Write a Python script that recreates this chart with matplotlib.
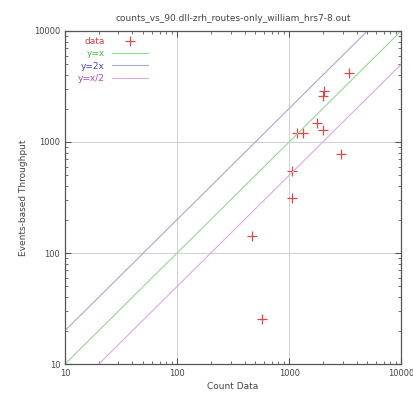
import matplotlib
matplotlib.use("Agg")
import matplotlib.pyplot as plt
import numpy as np

# count data vs events-based throughput
count_x = [3400, 2050, 2020, 1790, 2000, 1170, 1340, 2890, 1060, 1060, 464, 570]
events_y = [4150, 2900, 2600, 1470, 1280, 1200, 1200, 780, 550, 311, 142, 25.4]

ref_x = [10, 10000]

fig = plt.figure(figsize=(4.14, 4.01), dpi=100)
ax = fig.add_axes([0.157, 0.092, 0.812, 0.831])

ax.plot(count_x, events_y, linestyle='none', marker='+', ms=7, mew=0.9,
        color='#e04848', label='data')
ax.plot(ref_x, [v for v in ref_x], color='#90dc90', lw=0.8, label='y=x')
ax.plot(ref_x, [2 * v for v in ref_x], color='#a8a8d0', lw=0.8, label='y=2x')
ax.plot(ref_x, [v / 2 for v in ref_x], color='#e0a8e0', lw=0.8, label='y=x/2')

ax.set_xscale('log')
ax.set_yscale('log')
ax.set_xlim(10, 10000)
ax.set_ylim(10, 10000)
ax.set_xticks([10, 100, 1000, 10000])
ax.set_xticklabels(['10', '100', '1000', '10000'])
ax.set_yticks([10, 100, 1000, 10000])
ax.set_yticklabels(['10', '100', '1000', '10000'])
ax.grid(True, which='major', color='#d0d0d0', lw=0.7)
ax.tick_params(which='both', direction='in', top=True, right=True,
               labelsize=6, colors='#555555', labelcolor='#444444')
ax.tick_params(which='major', length=4)
ax.tick_params(which='minor', length=2)
for s in ax.spines.values():
    s.set_color('#555555')
    s.set_linewidth(0.9)

ax.set_xlabel('Count Data', fontsize=6.5, color='#444444', labelpad=3)
ax.set_ylabel('Events-based Throughput', fontsize=6.5, color='#444444', labelpad=4)
ax.set_title('counts_vs_90.dll-zrh_routes-only_william_hrs7-8.out',
             fontsize=6.5, color='#444444', pad=7)

leg = ax.legend(loc='upper left', frameon=False, markerfirst=False, fontsize=6.5,
                handlelength=4, labelspacing=0.35, borderaxespad=0.3,
                alignment='right', bbox_to_anchor=(0.02, 1.0))
text_cols = ['#d84040', '#40c040', '#4040c0', '#c040c0']
for t, c in zip(leg.get_texts(), text_cols):
    t.set_color(c)
    t.set_ha('right')

fig.savefig('out.png', dpi=100)
